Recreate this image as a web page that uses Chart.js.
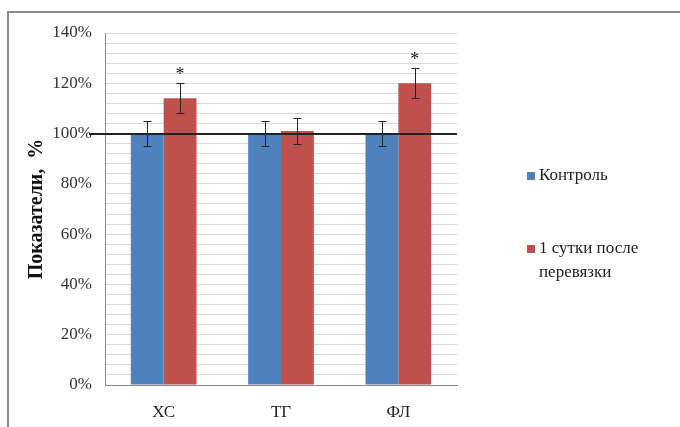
<!DOCTYPE html>
<html>
<head>
<meta charset="utf-8">
<script src="https://cdn.jsdelivr.net/npm/chart.js@4.4.0/dist/chart.umd.min.js"></script>
<style>
  html, body { margin: 0; padding: 0; background: #fff; }
  #wrap { position: relative; width: 680px; height: 427px; overflow: hidden; }
  #frame { position: absolute; left: 7px; top: 11px; width: 700px; height: 430px;
           border-top: 2px solid #8c8c8c; border-left: 2px solid #8c8c8c; }
  canvas { position: absolute; left: 0; top: 0; }
</style>
</head>
<body>
<div id="wrap">
  <div id="frame"></div>
  <canvas id="chart" width="680" height="427"></canvas>
</div>
<script>
// data
const categories = ['ХС', 'ТГ', 'ФЛ'];
const seriesNames = ['Контроль', ['1 сутки после', 'перевязки']];
const controlValues = [100, 100, 100];
const controlErrors = [5, 5, 5];
const afterValues = [114, 101, 120];
const afterErrors = [6, 5, 6];
const afterMarks = ['*', '', '*'];
const referenceLevel = [100];
const yMin = 0, yMax = 140, yStep = 4, yLabelStep = 20;

const blue = '#4f81bd';
const red = '#c0504d';
const serif = "'Liberation Serif', 'Times New Roman', serif";

// error bars, stars and 100% line
const extrasPlugin = {
  id: 'extras',
  afterDatasetsDraw(chart) {
    const ctx = chart.ctx;
    const y = chart.scales.y;
    const area = chart.chartArea;
    ctx.save();

    // reference line
    const ry = Math.round(y.getPixelForValue(referenceLevel[0]));
    ctx.strokeStyle = '#222';
    ctx.lineWidth = 2;
    ctx.beginPath();
    ctx.moveTo(area.left - 16, ry);
    ctx.lineTo(area.right, ry);
    ctx.stroke();

    const errs = [controlErrors, afterErrors];
    const vals = [controlValues, afterValues];
    ctx.strokeStyle = '#222';
    ctx.lineWidth = 1;
    errs.forEach((err, d) => {
      const meta = chart.getDatasetMeta(d);
      meta.data.forEach((bar, i) => {
        const x = Math.round(bar.x) + 0.5;
        const top = Math.round(y.getPixelForValue(vals[d][i] + err[i])) + 0.5;
        const bot = Math.round(y.getPixelForValue(vals[d][i] - err[i])) + 0.5;
        ctx.beginPath();
        ctx.moveTo(x, top); ctx.lineTo(x, bot);
        ctx.moveTo(x - 4, top); ctx.lineTo(x + 4, top);
        ctx.moveTo(x - 4, bot); ctx.lineTo(x + 4, bot);
        ctx.stroke();
      });
    });

    // significance stars
    const meta = chart.getDatasetMeta(1);
    ctx.fillStyle = '#222';
    ctx.font = '18px ' + serif;
    ctx.textAlign = 'center';
    ctx.textBaseline = 'middle';
    meta.data.forEach((bar, i) => {
      if (!afterMarks[i]) return;
      const top = y.getPixelForValue(afterValues[i] + afterErrors[i]);
      ctx.fillText(afterMarks[i], bar.x, top - 8);
    });
    ctx.restore();
  }
};

// legend on the right, with wrapped second label
const legendPlugin = {
  id: 'sideLegend',
  afterDraw(chart) {
    const ctx = chart.ctx;
    ctx.save();
    ctx.font = '17px ' + serif;
    ctx.textBaseline = 'middle';
    ctx.textAlign = 'left';
    const rows = [176, 249];
    chart.data.datasets.forEach((ds, d) => {
      const cy = rows[d];
      ctx.fillStyle = ds.backgroundColor;
      ctx.fillRect(527, cy - 4, 8, 8);
      ctx.fillStyle = '#222';
      const lines = [].concat(seriesNames[d]);
      lines.forEach((t, k) => ctx.fillText(t, 539, cy + k * 24));
    });
    ctx.restore();
  }
};

new Chart(document.getElementById('chart'), {
  type: 'bar',
  data: {
    labels: categories,
    datasets: [
      { label: 'Контроль', data: controlValues, backgroundColor: blue,
        categoryPercentage: 0.56, barPercentage: 1.0 },
      { label: '1 сутки после перевязки', data: afterValues, backgroundColor: red,
        categoryPercentage: 0.56, barPercentage: 1.0 }
    ]
  },
  options: {
    responsive: false,
    animation: false,
    layout: { padding: { left: 0, top: 33, right: 223, bottom: 0 } },
    plugins: {
      legend: { display: false },
      tooltip: { enabled: false }
    },
    scales: {
      x: {
        afterFit(scale) { scale.height = 42; },
        grid: { display: false },
        border: { display: true, color: '#8c8c8c', width: 1 },
        ticks: { color: '#222', font: { family: serif, size: 17 }, padding: 9 }
      },
      y: {
        min: yMin,
        max: yMax,
        afterFit(scale) { scale.width = 105; },
        afterBuildTicks(scale) {
          const t = [];
          for (let v = yMin; v <= yMax; v += yStep) t.push({ value: v });
          scale.ticks = t;
        },
        grid: { color: '#d9d9d9', lineWidth: 1, drawTicks: false },
        border: { display: true, color: '#8c8c8c', width: 1 },
        ticks: {
          autoSkip: false,
          padding: 13,
          color: '#333',
          font: { family: serif, size: 17 },
          callback: v => (v % yLabelStep === 0 ? v + '%' : '')
        },
        title: {
          display: true,
          text: 'Показатели,  %',
          color: '#111',
          font: { family: serif, size: 20, weight: 'bold' },
          padding: { top: 25, bottom: 0 }
        }
      }
    }
  },
  plugins: [extrasPlugin, legendPlugin]
});
</script>
</body>
</html>
